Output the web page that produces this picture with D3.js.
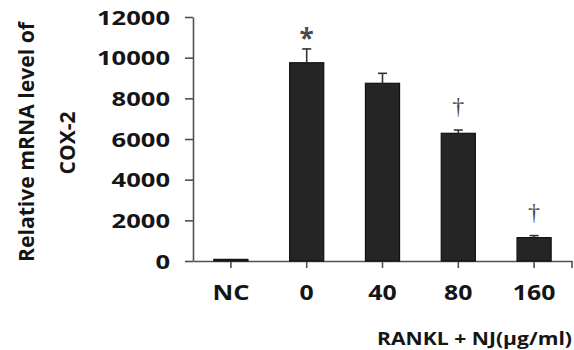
<!DOCTYPE html>
<html>
<head>
<meta charset="utf-8">
<script src="https://cdn.jsdelivr.net/npm/d3@7"></script>
<style>
  html, body { margin: 0; padding: 0; background: #fff; }
  svg { display: block; }
  text { font-family: "Open Sans", "Noto Sans", sans-serif; font-weight: 700; }
</style>
</head>
<body>
<svg id="chart" width="574" height="350"></svg>
<script>
const categories = ["NC", "0", "40", "80", "160"];
const means = [80, 9750, 8740, 6280, 1150];
const errors = [0, 680, 490, 160, 100];
const marks = ["", "*", "", "\u2020", "\u2020"];
const yTicks = [0, 2000, 4000, 6000, 8000, 10000, 12000];
const yTitleLines = ["Relative mRNA level of", "COX-2"];
const xTitle = "RANKL + NJ(\u03bcg/ml)";

const svg = d3.select("#chart");
const x = d3.scaleBand().domain(categories).range([193, 572]).paddingInner(0.55).paddingOuter(0.275);
const y = d3.scaleLinear().domain([0, 12000]).range([261, 17]);

const axisColor = "#505050";
const textColor = "#151515";

// Y axis
const yAx = svg.append("g").attr("transform", "translate(193,0)")
  .call(d3.axisLeft(y).tickValues(yTicks).tickSize(8).tickSizeOuter(0).tickFormat(d3.format("d")));
yAx.select(".domain").attr("stroke", axisColor).attr("stroke-width", 1.6);
yAx.selectAll(".tick line").attr("stroke", axisColor).attr("stroke-width", 1.6);
yAx.selectAll(".tick text")
  .attr("x", -23).attr("dy", "0.36em")
  .style("font-size", "19.5px")
  .style("fill", textColor)
  .attr("textLength", d => String(d).length * 14.6)
  .attr("lengthAdjust", "spacingAndGlyphs");

// X axis
const xAx = svg.append("g").attr("transform", "translate(0,261)")
  .call(d3.axisBottom(x).tickSize(7).tickSizeOuter(0));
xAx.select(".domain").attr("stroke", axisColor).attr("stroke-width", 1.6);
xAx.selectAll(".tick line").attr("stroke", axisColor).attr("stroke-width", 1.6);
xAx.selectAll(".tick text")
  .attr("y", 39).attr("dy", 0)
  .style("font-size", "20.5px")
  .style("fill", textColor)
  .attr("textLength", d => d === "NC" ? 37 : d.length * 14.2)
  .attr("lengthAdjust", "spacingAndGlyphs");
// right end tick
xAx.append("line")
  .attr("x1", x.range()[1]).attr("x2", x.range()[1])
  .attr("y1", 0).attr("y2", 7)
  .attr("stroke", axisColor).attr("stroke-width", 1.6);

// Bars
const data = categories.map((c, i) => ({ c, m: means[i], e: errors[i], mark: marks[i] }));
svg.append("g").selectAll("rect").data(data).join("rect")
  .attr("x", d => x(d.c))
  .attr("y", d => y(d.m))
  .attr("width", x.bandwidth())
  .attr("height", d => y(0) - y(d.m))
  .attr("fill", "#252525")
  .attr("stroke", "#111")
  .attr("stroke-width", 1.2);

// Error bars (upper only)
const eg = svg.append("g").attr("stroke", "#333").attr("stroke-width", 1.6);
data.filter(d => d.e > 0).forEach(d => {
  const cx = x(d.c) + x.bandwidth() / 2;
  eg.append("line").attr("x1", cx).attr("x2", cx).attr("y1", y(d.m)).attr("y2", y(d.m + d.e));
  eg.append("line").attr("x1", cx - 4.5).attr("x2", cx + 4.5).attr("y1", y(d.m + d.e)).attr("y2", y(d.m + d.e));
});

// Significance marks
svg.append("g").selectAll("text").data(data.filter(d => d.mark)).join("text")
  .attr("x", d => x(d.c) + x.bandwidth() / 2)
  .attr("y", d => y(d.m + d.e) - (d.mark === "*" ? 1 : 16))
  .attr("text-anchor", "middle")
  .style("font-family", d => d.mark === "*" ? "'Open Sans', sans-serif" : "'Liberation Serif', serif")
  .style("font-size", d => d.mark === "*" ? "26px" : "24px")
  .style("font-weight", d => d.mark === "*" ? 700 : 400)
  .style("fill", "#4a4a4a")
  .text(d => d.mark);

// Y title
svg.append("text")
  .attr("transform", "translate(34,142) rotate(-90)")
  .attr("text-anchor", "middle")
  .style("font-size", "20.5px")
  .style("fill", textColor)
  .attr("textLength", 240).attr("lengthAdjust", "spacingAndGlyphs")
  .text(yTitleLines[0]);
svg.append("text")
  .attr("transform", "translate(75,143) rotate(-90)")
  .attr("text-anchor", "middle")
  .style("font-size", "20.5px")
  .style("fill", textColor)
  .attr("textLength", 63).attr("lengthAdjust", "spacingAndGlyphs")
  .text(yTitleLines[1]);

// X title
svg.append("text")
  .attr("x", 572).attr("y", 345)
  .attr("text-anchor", "end")
  .style("font-size", "17px")
  .style("fill", textColor)
  .attr("textLength", 195).attr("lengthAdjust", "spacingAndGlyphs")
  .text(xTitle);
</script>
</body>
</html>
